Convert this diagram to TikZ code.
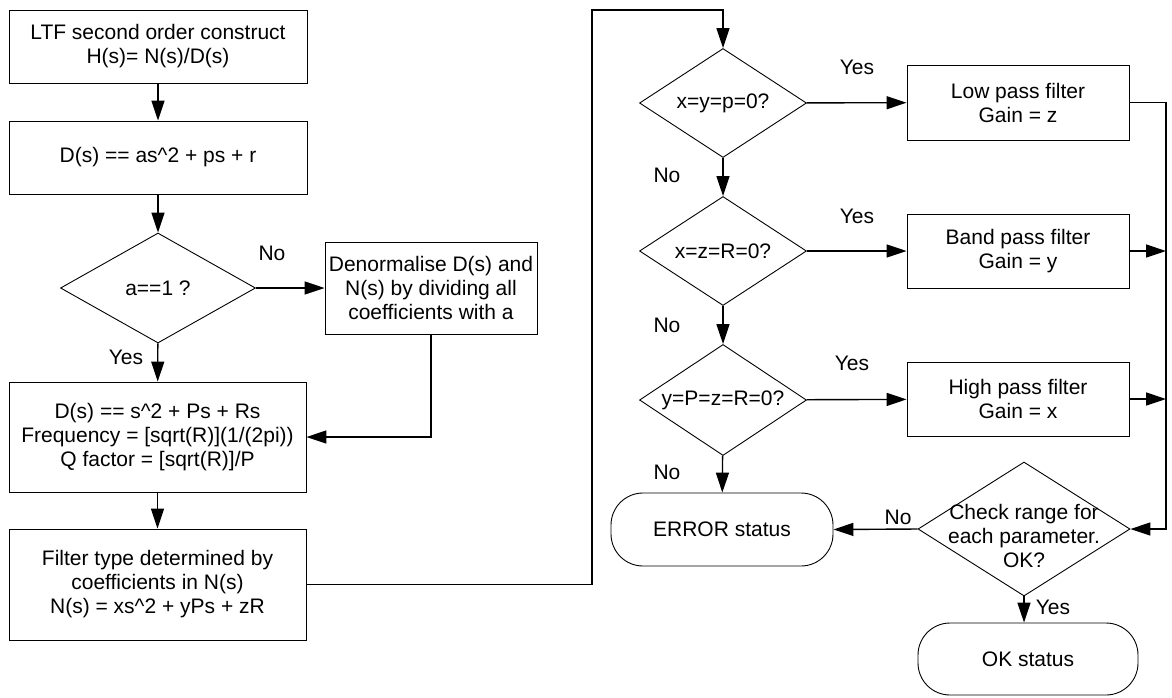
\documentclass[tikz,border=0pt]{standalone}
\usepackage{fontspec}
\setmainfont{Liberation Sans}
\usetikzlibrary{shapes.geometric,arrows.meta}
\begin{document}
\begin{tikzpicture}[x=1pt,y=-1pt,
  font=\fontsize{21}{24}\selectfont,
  procbox/.style={draw, line width=0.9pt, rectangle, align=center, inner sep=0pt},
  decision/.style={draw, line width=0.9pt, diamond, inner sep=0pt},
  dtext/.style={align=center, inner sep=0pt},
  terminal/.style={draw, line width=0.9pt, rectangle, rounded corners=32pt, align=center, inner sep=0pt},
  lbl/.style={inner sep=0pt},
  arr/.style={line width=1.4pt, -{Triangle[length=20pt,width=13pt]}}]
\useasboundingbox (0,0) rectangle (1172,697);

% left column
\node[procbox, minimum width=298pt, minimum height=73pt] (b1) at (158,46.5)
  {LTF second order construct\\H(s)= N(s)/D(s)};
\node[procbox, minimum width=298pt, minimum height=73pt] (b2) at (158,157.5)
  {D(s) == as\textasciicircum2 + ps + r};
\node[decision, minimum width=195pt, minimum height=110pt] (d1) at (158,288) {};
\node[dtext] (t1) at (d1) {a==1 ?};
\node[procbox, minimum width=212pt, minimum height=92pt] (dn) at (431,288)
  {Denormalise D(s) and\\N(s) by dividing all\\coefficients with a};
\node[procbox, minimum width=297pt, minimum height=110pt] (b3) at (157.5,437)
  {D(s) == s\textasciicircum2 + Ps + Rs\\Frequency = [sqrt(R)](1/(2pi))\\Q factor = [sqrt(R)]/P};
\node[procbox, minimum width=297pt, minimum height=111pt] (b4) at (157.5,584.5)
  {Filter type determined by\\coefficients in N(s)\\N(s) = xs\textasciicircum2 + yPs + zR};

% decision chain
\node[decision, minimum width=167pt, minimum height=109pt] (d2) at (723,103) {};
\node[dtext] (t2) at (d2) {x=y=p=0?};
\node[decision, minimum width=167pt, minimum height=109pt] (d3) at (723,251) {};
\node[dtext] (t3) at (d3) {x=z=R=0?};
\node[decision, minimum width=167pt, minimum height=111pt] (d4) at (723,400) {};
\node[dtext] (t4) at (d4) {y=P=z=R=0?};

% filter results
\node[procbox, minimum width=222pt, minimum height=75pt] (lp) at (1018,102.5)
  {Low pass filter\\Gain = z};
\node[procbox, minimum width=222pt, minimum height=74pt] (bp) at (1018,251)
  {Band pass filter\\Gain = y};
\node[procbox, minimum width=222pt, minimum height=74pt] (hp) at (1018,399)
  {High pass filter\\Gain = x};

% range check and terminals
\node[decision, minimum width=212pt, minimum height=134pt] (ck) at (1024,529) {};
\node[dtext] (t5) at (1024,536) {Check range for\\each parameter.\\OK?};
\node[terminal, minimum width=222pt, minimum height=73pt] (err) at (722,529.5) {ERROR status};
\node[terminal, minimum width=220pt, minimum height=72pt] (ok) at (1028,659) {OK status};

% branch labels
\node[lbl] (l1) at (272,253) {No};
\node[lbl] (l2) at (126,357) {Yes};
\node[lbl] (l3) at (857,67) {Yes};
\node[lbl] (l4) at (667,175) {No};
\node[lbl] (l5) at (857,216) {Yes};
\node[lbl] (l6) at (667,325) {No};
\node[lbl] (l7) at (852,363) {Yes};
\node[lbl] (l8) at (667,472) {No};
\node[lbl] (l9) at (898,517) {No};
\node[lbl] (l10) at (1053,607) {Yes};

% routing points
\coordinate (loop) at (592,10);
\coordinate (bus) at (1166,300);

% connectors
\draw[arr] (b1) -- (b2);
\draw[arr] (b2) -- (d1);
\draw[arr] (d1) -- (dn);
\draw[arr] (d1) -- (b3);
\draw[arr] (dn.south) |- (b3.east);
\draw[arr] (b3) -- (b4);
\draw[arr] (b4.east) -| (loop) -| (d2.north);
\draw[arr] (d2) -- (lp);
\draw[arr] (d2) -- (d3);
\draw[arr] (d3) -- (bp);
\draw[arr] (d3) -- (d4);
\draw[arr] (d4) -- (hp);
\draw[arr] (d4) -- (err);
\draw[arr] (lp.east) -| (bus) |- (ck.east);
\draw[arr] (bp.east) -- (bp.east -| bus);
\draw[arr] (hp.east) -- (hp.east -| bus);
\draw[arr] (ck.west) -- (err.east);
\draw[arr] (ck.south) -- (ck.south |- ok.north);
\end{tikzpicture}
\end{document}
